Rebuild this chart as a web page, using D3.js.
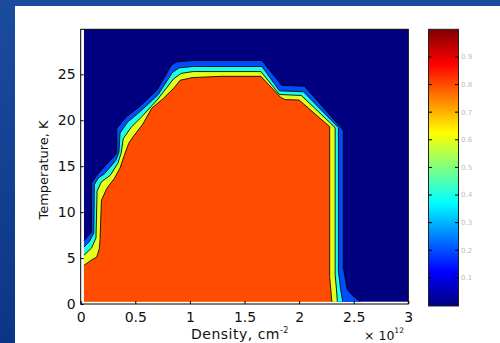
<!DOCTYPE html>
<html>
<head>
<meta charset="utf-8">
<script src="https://cdn.jsdelivr.net/npm/d3@7"></script>
<style>
  html, body { margin: 0; padding: 0; background: #0e3f93; }
  svg { display: block; }
  text { font-family: "DejaVu Sans", sans-serif; }
</style>
</head>
<body>
<svg id="chart" width="500" height="343"></svg>
<script>
// ---------------- data ----------------
const densityTicks = [0, 0.5, 1, 1.5, 2, 2.5, 3];          // ×10^12 cm^-2
const temperatureTicks = [0, 5, 10, 15, 20, 25];            // K
const colorbarTicks = [0.1, 0.2, 0.3, 0.4, 0.5, 0.6, 0.7, 0.8, 0.9];
const contourLevels = [0, 0.2, 0.4, 0.6, 0.8];              // filled contour levels
const gridDensity = [0.03, 3];                              // extent of computed grid
const gridTemperature = [0.25, 29.9];

// contour boundaries [density, temperature], from left edge, over the top, down to bottom
const level02 = [
  [0.03, 6.9], [0.06, 7.3], [0.10, 7.8], [0.10, 13.2], [0.16, 14.2], [0.33, 16.4],
  [0.33, 19.1], [0.42, 20.4], [0.54, 21.5], [0.70, 23.3], [0.83, 26.0], [0.88, 26.35],
  [1.03, 26.5], [1.66, 26.5], [1.84, 23.8], [2.05, 23.7], [2.39, 19.1], [2.405, 18.8],
  [2.405, 4.0], [2.44, 1.6], [2.49, 0.9], [2.56, 0.25]
];
const level04 = [
  [0.03, 6.2], [0.08, 6.8], [0.12, 7.7], [0.125, 13.0], [0.16, 13.7], [0.22, 14.2],
  [0.32, 15.6], [0.35, 16.5], [0.36, 18.6], [0.43, 19.8], [0.55, 21.0], [0.71, 22.8],
  [0.84, 25.2], [0.90, 25.7], [1.03, 25.85], [1.66, 25.85], [1.82, 23.2], [2.04, 23.1],
  [2.36, 19.2], [2.36, 3.6], [2.38, 1.6], [2.40, 0.25]
];
const level06 = [
  [0.03, 5.3], [0.10, 6.1], [0.14, 7.2], [0.15, 12.3], [0.19, 13.3], [0.27, 14.0],
  [0.34, 15.3], [0.37, 16.4], [0.39, 18.0], [0.46, 19.2], [0.56, 20.4], [0.70, 22.2],
  [0.85, 24.5], [0.92, 25.1], [1.03, 25.3], [1.65, 25.3], [1.82, 22.8], [2.02, 22.7],
  [2.33, 19.2], [2.33, 3.2], [2.345, 1.2], [2.35, 0.25]
];
const level08 = [
  [0.03, 4.2], [0.10, 4.8], [0.146, 5.1], [0.17, 6.0], [0.177, 7.0], [0.19, 11.3],
  [0.24, 12.6], [0.31, 13.7], [0.36, 14.8], [0.40, 16.2], [0.44, 17.5], [0.48, 18.2],
  [0.57, 19.6], [0.65, 21.3], [0.76, 22.4], [0.86, 23.6], [0.91, 24.35], [1.02, 24.64],
  [1.28, 24.78], [1.65, 24.78], [1.83, 22.5], [1.87, 22.25], [2.00, 22.2], [2.28, 19.3],
  [2.28, 3.0], [2.30, 0.25]
];
const boundaries = [level02, level04, level06, level08];

// ---------------- drawing ----------------
// MATLAB "jet" colormap
function jet(v) {
  const c = t => Math.max(0, Math.min(1, t));
  const r = c(1.5 - Math.abs(4 * v - 3));
  const g = c(1.5 - Math.abs(4 * v - 2));
  const b = c(1.5 - Math.abs(4 * v - 1));
  return d3.rgb(r * 255, g * 255, b * 255).formatHex();
}

const svg = d3.select("#chart");
const defs = svg.append("defs");

// slide background
const bg = defs.append("linearGradient").attr("id", "bg").attr("x1", 0).attr("y1", 0).attr("x2", 0).attr("y2", 1);
bg.append("stop").attr("offset", "0%").attr("stop-color", "#1a4c9e");
bg.append("stop").attr("offset", "100%").attr("stop-color", "#0b3687");
svg.append("rect").attr("width", 500).attr("height", 343).attr("fill", "url(#bg)");
svg.append("rect").attr("x", 15).attr("y", 6).attr("width", 485).attr("height", 337).attr("fill", "#ffffff");

const x = d3.scaleLinear().domain([0, 3]).range([80.7, 408.3]);
const y = d3.scaleLinear().domain([0, 29.9]).range([304, 29.3]);

// filled contours
const plot = svg.append("g");
plot.append("rect")
  .attr("x", x(gridDensity[0])).attr("y", y(gridTemperature[1]))
  .attr("width", x(gridDensity[1]) - x(gridDensity[0]))
  .attr("height", y(gridTemperature[0]) - y(gridTemperature[1]))
  .attr("fill", jet(contourLevels[0]));

const area = d3.line().x(d => x(d[0])).y(d => y(d[1]));
boundaries.forEach((b, i) => {
  const poly = b.concat([[gridDensity[0], gridTemperature[0]]]);
  plot.append("path").attr("d", area(poly) + "Z").attr("fill", jet(contourLevels[i + 1]));
});
boundaries.forEach(b => {
  plot.append("path").attr("d", area(b)).attr("fill", "none")
    .attr("stroke", "#000").attr("stroke-width", 1).attr("stroke-opacity", 0.85);
});

// axes
const xAxis = d3.axisBottom(x).tickValues(densityTicks).tickFormat(d3.format("~g"))
  .tickSizeInner(-3).tickSizeOuter(0).tickPadding(8);
const gx = svg.append("g").attr("transform", `translate(0,${y(0)})`).call(xAxis);
const yAxis = d3.axisLeft(y).tickValues(temperatureTicks).tickFormat(d3.format("~g"))
  .tickSizeInner(-3).tickSizeOuter(0).tickPadding(5);
const gy = svg.append("g").attr("transform", `translate(${x(0)},0)`).call(yAxis);
[gx, gy].forEach(g => {
  g.select(".domain").remove();
  g.selectAll("line").attr("stroke", "#000");
  g.selectAll("text").attr("font-family", "DejaVu Sans, sans-serif").attr("font-size", 14).attr("fill", "#111");
});

// frame
svg.append("rect").attr("x", x(0)).attr("y", y(29.9))
  .attr("width", x(3) - x(0)).attr("height", y(0) - y(29.9))
  .attr("fill", "none").attr("stroke", "#000").attr("stroke-width", 1);

// axis labels
const xl = svg.append("text").attr("x", 240).attr("y", 338.5).attr("text-anchor", "middle")
  .attr("font-size", 14).attr("letter-spacing", 0.5).attr("fill", "#111");
xl.append("tspan").text("Density, cm");
xl.append("tspan").attr("dy", -6).attr("font-size", 8).text("-2");

const ex = svg.append("text").attr("x", 364).attr("y", 340).attr("font-size", 12.5).attr("fill", "#111");
ex.append("tspan").text("× 10");
ex.append("tspan").attr("dy", -7).attr("font-size", 7.5).text("12");

svg.append("text").attr("transform", "translate(48,170) rotate(-90)")
  .attr("text-anchor", "middle").attr("font-size", 13).attr("fill", "#111")
  .text("Temperature, K");

// colorbar
const cb = d3.scaleLinear().domain([0, 1]).range([305.5, 29.3]);
const grad = defs.append("linearGradient").attr("id", "jet").attr("x1", 0).attr("y1", 1).attr("x2", 0).attr("y2", 0);
d3.range(0, 1.0001, 0.025).forEach(t => {
  grad.append("stop").attr("offset", `${t * 100}%`).attr("stop-color", jet(t));
});
svg.append("rect").attr("x", 428.5).attr("y", cb(1)).attr("width", 30).attr("height", cb(0) - cb(1) + 0.5)
  .attr("fill", "url(#jet)").attr("stroke", "#222").attr("stroke-width", 1);
const cbt = svg.append("g");
colorbarTicks.forEach(t => {
  cbt.append("line").attr("x1", 428.5).attr("x2", 432).attr("y1", cb(t)).attr("y2", cb(t)).attr("stroke", "#000");
  cbt.append("line").attr("x1", 455).attr("x2", 458.5).attr("y1", cb(t)).attr("y2", cb(t)).attr("stroke", "#000");
  cbt.append("text").attr("x", 461).attr("y", cb(t)).attr("dy", "0.35em")
    .attr("font-size", 7).attr("fill", "#bdbdbd").text(d3.format(".1f")(t));
});
</script>
</body>
</html>
